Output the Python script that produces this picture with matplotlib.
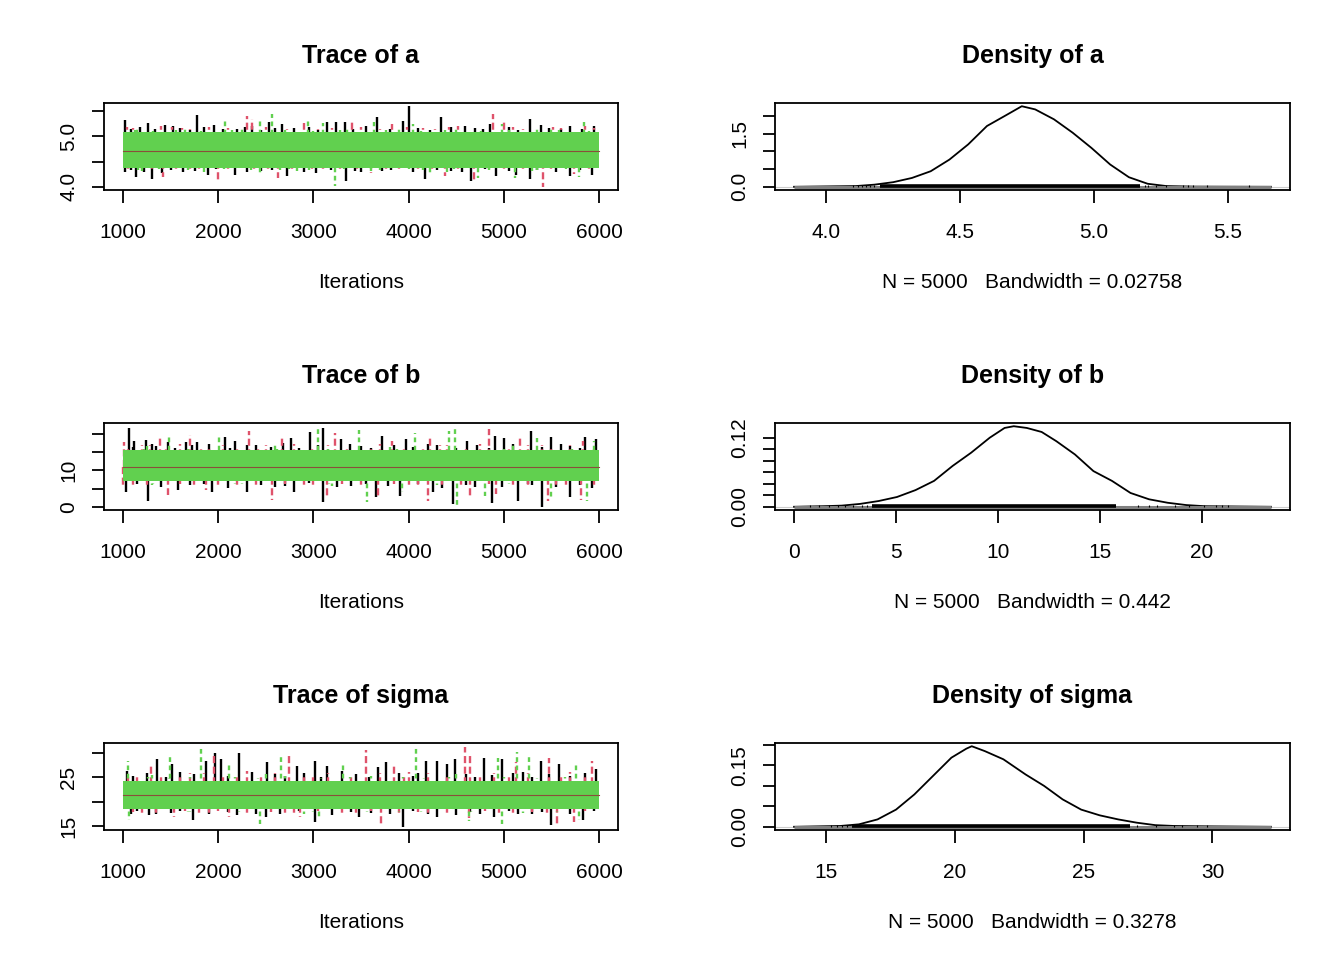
import matplotlib
matplotlib.use("Agg")
import matplotlib.pyplot as plt

plt.rcParams["font.family"] = ["Liberation Sans", "DejaVu Sans"]

# R palette for the three chains
CHAIN_COLORS = ["#000000", "#DF536B", "#61D04F"]
CHAIN_STYLES = ["-", (0, (3, 1.5)), (0, (2, 1.5))]
ITER_TICKS = [1000, 2000, 3000, 4000, 5000, 6000]

# ---- trace of a: solid band (core) and excursions (iteration, value) ----
a_mean = 4.72
a_core = (4.38, 5.09)
a_black_up = [(1020, 5.33), (1260, 5.27), (1440, 5.23), (1600, 5.16), (1780, 5.43), (1960, 5.23),
              (2200, 5.15), (2360, 5.21), (2530, 5.28), (2670, 5.25), (2800, 5.17), (3140, 5.28),
              (3240, 5.28), (3330, 5.28), (3670, 5.38), (3940, 5.30), (4000, 5.60), (4340, 5.38),
              (4590, 5.21), (4700, 5.16), (4860, 5.25), (5280, 5.35), (5390, 5.23), (5600, 5.14),
              (5950, 5.21), (1080, 5.14), (1180, 5.19), (1340, 5.15), (1520, 5.20), (1700, 5.13),
              (1850, 5.18), (2050, 5.14), (2280, 5.19), (2450, 5.13), (2600, 5.16), (2950, 5.18),
              (3050, 5.13), (3420, 5.15), (3550, 5.20), (3800, 5.14), (4100, 5.17), (4230, 5.13),
              (4450, 5.18), (4780, 5.14), (5050, 5.19), (5150, 5.13), (5480, 5.17), (5700, 5.20),
              (5820, 5.15)]
a_red_up = [(1100, 5.16), (1510, 5.18), (1700, 5.14), (2100, 5.17), (2300, 5.40), (2360, 5.35),
            (2900, 5.26), (3050, 5.15), (3410, 5.28), (3830, 5.25), (4150, 5.16), (4420, 5.19),
            (4890, 5.45), (5000, 5.28), (5200, 5.15), (5600, 5.17), (5850, 5.21), (1040, 5.18),
            (1250, 5.13), (1400, 5.20), (1620, 5.16), (1900, 5.19), (2180, 5.13), (2500, 5.18),
            (2720, 5.14), (3200, 5.17), (3300, 5.13), (3500, 5.19), (3700, 5.14), (3980, 5.18),
            (4280, 5.14), (4520, 5.20), (4650, 5.13), (5100, 5.18), (5330, 5.13), (5520, 5.19),
            (5950, 5.16)]
a_green_up = [(2070, 5.33), (2440, 5.30), (2560, 5.44), (2940, 5.35), (3100, 5.26), (3640, 5.28),
              (4050, 5.25), (4980, 5.25), (5350, 5.19), (5840, 5.28), (1150, 5.17), (1650, 5.15),
              (2250, 5.18), (3350, 5.16), (3900, 5.14), (4500, 5.17), (5500, 5.15),
              (1030, 5.08), (1130, 5.12), (1230, 5.06), (1320, 5.10), (1480, 5.07), (1560, 5.13),
              (1740, 5.08), (1820, 5.11), (1990, 5.06), (2140, 5.12), (2330, 5.09), (2490, 5.07),
              (2700, 5.13), (2860, 5.08), (3000, 5.10), (3160, 5.06), (3280, 5.12), (3460, 5.09),
              (3580, 5.07), (3760, 5.13), (3980, 5.08), (4130, 5.11), (4270, 5.06), (4380, 5.12),
              (4620, 5.08), (4760, 5.10), (4900, 5.07), (5060, 5.13), (5200, 5.09), (5420, 5.06),
              (5580, 5.12), (5680, 5.08), (5900, 5.10)]
a_black_dn = [(1020, 4.29), (1140, 4.19), (1300, 4.16), (1410, 4.28), (1630, 4.30), (1890, 4.24),
              (2180, 4.24), (2450, 4.31), (2720, 4.21), (3030, 4.28), (3340, 4.12), (3500, 4.30),
              (3720, 4.31), (4170, 4.16), (4450, 4.32), (4660, 4.11), (4920, 4.21), (5130, 4.23),
              (5280, 4.16), (5700, 4.21), (5930, 4.24), (1080, 4.33), (1220, 4.30), (1500, 4.34),
              (1760, 4.31), (1980, 4.35), (2300, 4.29), (2560, 4.33), (2900, 4.30), (3180, 4.34),
              (3440, 4.31), (3820, 4.33), (4050, 4.29), (4300, 4.34), (4560, 4.30), (4800, 4.35),
              (5050, 4.31), (5350, 4.34), (5550, 4.30), (5800, 4.33)]
a_red_dn = [(1200, 4.32), (1420, 4.19), (1800, 4.30), (2000, 4.11), (2630, 4.17), (3100, 4.33),
            (3600, 4.28), (3900, 4.31), (4380, 4.21), (4690, 4.14), (5000, 4.32), (5410, 4.00),
            (5740, 4.26), (1050, 4.34), (1300, 4.30), (1560, 4.33), (1700, 4.29), (2100, 4.34),
            (2380, 4.31), (2520, 4.30), (2780, 4.34), (2980, 4.31), (3280, 4.35), (3460, 4.29),
            (3760, 4.33), (4100, 4.30), (4250, 4.35), (4520, 4.31), (4850, 4.33), (5200, 4.30),
            (5500, 4.34), (5900, 4.31)]
a_green_dn = [(2440, 4.26), (2830, 4.31), (3230, 4.02), (4220, 4.24), (4730, 4.17), (5120, 4.17),
              (5790, 4.19), (1200, 4.32), (1850, 4.30), (2650, 4.33), (3600, 4.31), (4400, 4.30),
              (5300, 4.32), (1040, 4.38), (1160, 4.34), (1260, 4.40), (1380, 4.36), (1540, 4.39),
              (1680, 4.33), (1780, 4.37), (1940, 4.40), (2060, 4.35), (2220, 4.38), (2340, 4.33),
              (2600, 4.39), (2740, 4.36), (2950, 4.34), (3080, 4.40), (3320, 4.35), (3480, 4.38),
              (3700, 4.34), (3850, 4.39), (4000, 4.36), (4150, 4.33), (4320, 4.38), (4480, 4.35),
              (4600, 4.40), (4850, 4.34), (5000, 4.37), (5180, 4.39), (5350, 4.33), (5480, 4.38),
              (5650, 4.35), (5880, 4.39)]

# ---- trace of b ----
b_mean = 11.0
b_core = (7.2, 15.6)
b_black_up = [(1060, 21.5), (1120, 18.1), (1240, 18.3), (1350, 16.6), (1470, 17.6), (1660, 17.6),
              (1780, 17.6), (2070, 19.0), (2180, 18.1), (2400, 16.9), (2760, 18.7), (2960, 20.4),
              (3100, 21.5), (3290, 18.5), (3500, 16.7), (3720, 19.4), (3970, 18.5), (4300, 17.0),
              (4610, 18.1), (4910, 19.4), (5000, 18.7), (5290, 20.8), (5500, 19.0), (5700, 16.5),
              (5850, 19.0), (5970, 18.5), (1100, 16.4), (1300, 17.2), (1550, 16.0), (1720, 16.8),
              (1900, 17.3), (2120, 16.2), (2300, 17.0), (2550, 16.3), (2680, 17.4), (2850, 16.1),
              (3050, 16.9), (3380, 17.2), (3600, 16.2), (3850, 16.9), (4050, 16.4), (4200, 17.3),
              (4500, 16.1), (4720, 16.8), (4850, 16.2), (5100, 17.1), (5400, 16.3), (5600, 17.2),
              (5800, 16.0)]
b_red_up = [(1010, 17.6), (1200, 16.8), (1390, 18.7), (1700, 19.6), (1900, 16.5), (2320, 20.8),
            (2500, 17.0), (2670, 19.0), (3230, 20.2), (3600, 16.6), (3830, 18.1), (4220, 19.0),
            (4400, 16.8), (4840, 21.3), (5170, 19.0), (5400, 17.0), (5830, 18.1), (1050, 16.2),
            (1280, 16.9), (1450, 16.0), (1600, 17.3), (1820, 16.4), (2050, 17.0), (2200, 16.1),
            (2420, 16.7), (2800, 17.1), (2980, 16.3), (3150, 16.8), (3350, 16.0), (3700, 17.2),
            (3950, 16.5), (4150, 16.1), (4330, 16.9), (4600, 16.3), (4750, 17.1), (5050, 16.2),
            (5250, 16.8), (5500, 16.1), (5700, 16.9), (5950, 16.4)]
b_green_up = [(1480, 19.4), (2010, 19.6), (3050, 21.8), (3480, 21.1), (4070, 20.2), (4420, 20.6),
              (4490, 22.0), (5350, 18.7), (5950, 18.1), (1250, 16.6), (2600, 16.9), (3800, 16.4),
              (5100, 16.8), (1030, 15.2), (1140, 14.6), (1220, 15.8), (1330, 14.9), (1440, 15.5),
              (1560, 14.7), (1680, 15.9), (1790, 15.0), (1920, 14.5), (2080, 15.6), (2190, 14.8),
              (2330, 15.3), (2470, 14.6), (2620, 15.8), (2750, 14.9), (2880, 15.4), (3000, 14.7),
              (3150, 15.9), (3300, 15.0), (3420, 14.6), (3580, 15.5), (3720, 14.8), (3880, 15.7),
              (4010, 15.0), (4170, 14.5), (4310, 15.6), (4560, 14.9), (4700, 15.4), (4860, 14.7),
              (5000, 15.8), (5160, 15.1), (5300, 14.6), (5440, 15.5), (5580, 14.8), (5720, 15.9),
              (5880, 15.0)]
b_black_dn = [(1030, 4.2), (1260, 1.75), (1580, 4.7), (1700, 5.9), (1930, 4.0), (2300, 4.0),
              (2600, 5.6), (2800, 4.2), (3100, 1.5), (3400, 5.8), (3660, 2.7), (3910, 3.0),
              (4260, 4.0), (4470, 0.8), (4700, 5.5), (4880, 1.2), (5150, 1.75), (5300, 6.0),
              (5400, 0.1), (5700, 2.7), (5930, 5.2), (1150, 6.2), (1400, 5.5), (1850, 6.4),
              (2100, 5.3), (2450, 6.1), (2700, 5.8), (2950, 6.5), (3250, 5.4), (3550, 6.2),
              (3780, 5.7), (4100, 6.3), (4350, 5.2), (4600, 6.0), (4980, 5.6), (5250, 6.4),
              (5550, 5.5), (5800, 6.1)]
b_red_dn = [(1100, 5.8), (1470, 3.3), (1870, 4.7), (2000, 5.5), (2570, 1.9), (2900, 6.0),
            (3140, 2.7), (3680, 2.4), (4000, 5.6), (4200, 1.75), (4650, 2.7), (4920, 3.6),
            (5100, 5.9), (5460, 1.75), (5650, 5.4), (5810, 1.9), (1000, 6.0), (1250, 5.6),
            (1600, 6.3), (1750, 5.2), (2200, 6.1), (2400, 5.7), (2700, 6.4), (3000, 5.3),
            (3300, 6.2), (3500, 5.8), (3850, 6.3), (4100, 5.5), (4350, 6.1), (4550, 5.4),
            (4850, 6.2), (5250, 5.3), (5550, 6.0), (5950, 5.8)]
b_green_dn = [(3560, 1.5), (3930, 4.2), (4510, 0.55), (4800, 2.9), (5500, 2.4), (5870, 1.75),
              (1300, 5.9), (2250, 6.2), (3200, 5.7), (4300, 6.0), (1050, 7.0), (1180, 7.5),
              (1310, 6.4), (1420, 7.2), (1540, 6.8), (1660, 7.6), (1800, 6.5), (1940, 7.1),
              (2060, 7.4), (2180, 6.3), (2310, 7.0), (2480, 7.5), (2620, 6.6), (2760, 7.2),
              (2880, 6.9), (3020, 7.6), (3160, 6.4), (3330, 7.1), (3450, 7.4), (3620, 6.7),
              (3760, 7.3), (3900, 6.5), (4050, 7.0), (4180, 7.5), (4400, 6.6), (4620, 7.2),
              (4760, 6.9), (4920, 7.5), (5060, 6.4), (5220, 7.1), (5380, 7.4), (5520, 6.7),
              (5680, 7.2), (5840, 6.5), (5980, 7.0)]

# ---- trace of sigma ----
s_mean = 21.3
s_core = (18.6, 24.3)
s_black_up = [(1040, 26.2), (1360, 28.8), (1510, 27.6), (1600, 26.0), (1870, 28.3), (1970, 29.9),
              (2030, 28.8), (2220, 29.9), (2510, 28.0), (2600, 25.7), (2830, 27.3), (3020, 28.3),
              (3140, 27.3), (3300, 26.3), (3680, 27.1), (3760, 28.0), (4100, 25.8), (4180, 28.3),
              (4300, 28.3), (4400, 27.6), (4490, 28.7), (4790, 29.0), (4980, 28.8), (5200, 26.1),
              (5390, 28.3), (5580, 27.6), (5970, 26.6), (1100, 25.3), (1250, 25.9), (1450, 25.1),
              (1750, 25.7), (2100, 25.2), (2350, 26.0), (2700, 25.3), (2900, 25.8), (3080, 25.0),
              (3450, 25.6), (3580, 25.1), (3900, 25.9), (4050, 25.2), (4600, 25.7), (4700, 25.0),
              (4880, 25.5), (5100, 25.9), (5300, 25.1), (5480, 25.7), (5700, 25.2), (5850, 25.8)]
s_red_up = [(1150, 25.6), (1290, 27.3), (1700, 25.9), (1960, 29.5), (2300, 26.2), (2740, 29.5),
            (3000, 25.7), (3550, 30.6), (3850, 27.3), (4000, 26.0), (4590, 31.1), (4650, 29.4),
            (4900, 25.8), (5130, 28.0), (5480, 29.0), (5700, 26.1), (5930, 28.3), (1050, 25.0),
            (1400, 25.6), (1600, 25.2), (1850, 25.9), (2050, 25.1), (2200, 25.7), (2450, 25.0),
            (2600, 25.8), (2900, 25.3), (3150, 25.9), (3400, 25.1), (3700, 25.8), (3950, 25.3),
            (4200, 25.9), (4400, 25.1), (4750, 25.6), (5050, 25.2), (5250, 25.9), (5600, 25.1),
            (5850, 25.7)]
s_green_up = [(1050, 28.3), (1490, 29.5), (1820, 31.1), (2110, 28.0), (2660, 29.5), (3310, 28.0),
              (4080, 31.3), (4940, 29.0), (5140, 30.2), (5270, 29.4), (5760, 28.0), (1300, 25.4),
              (2500, 25.6), (3600, 25.3), (4500, 25.7), (1030, 24.6), (1140, 24.1), (1260, 25.0),
              (1370, 24.3), (1480, 24.8), (1580, 24.0), (1700, 25.1), (1800, 24.4), (1930, 24.7),
              (2060, 24.1), (2180, 25.0), (2290, 24.3), (2420, 24.8), (2560, 24.0), (2700, 25.2),
              (2820, 24.5), (2950, 24.2), (3080, 24.9), (3200, 24.3), (3380, 25.0), (3500, 24.1),
              (3660, 24.7), (3800, 24.2), (3940, 25.1), (4020, 24.4), (4160, 24.8), (4280, 24.1),
              (4420, 25.0), (4560, 24.3), (4700, 24.7), (4850, 24.0), (5000, 25.1), (5200, 24.4),
              (5350, 24.8), (5500, 24.2), (5640, 25.0), (5800, 24.3), (5960, 24.7)]
s_black_dn = [(1080, 17.6), (1270, 17.2), (1500, 17.8), (1740, 16.2), (2200, 17.2), (2400, 17.5),
              (2500, 16.8), (3020, 15.9), (3480, 16.8), (3600, 17.7), (3940, 14.9), (4300, 16.8),
              (4500, 17.3), (4900, 16.8), (5300, 17.6), (5500, 15.2), (5830, 16.2), (1150, 18.1),
              (1350, 17.6), (1600, 18.2), (1900, 17.4), (2100, 18.0), (2650, 17.5), (2850, 18.1),
              (3200, 17.3), (3400, 18.0), (3800, 17.4), (4050, 18.2), (4200, 17.6), (4650, 18.0),
              (4750, 17.5), (5050, 18.2), (5150, 17.4), (5400, 18.0), (5700, 17.5), (5950, 18.1)]
s_red_dn = [(1200, 17.5), (1540, 16.9), (1900, 17.8), (2110, 16.8), (2700, 17.3), (2860, 16.8),
            (3300, 17.6), (3710, 15.0), (4200, 17.4), (4630, 16.6), (5100, 17.7), (5560, 15.2),
            (5740, 15.9), (1100, 18.0), (1350, 17.4), (1650, 18.1), (1800, 17.3), (2000, 18.2),
            (2300, 17.6), (2550, 18.0), (2800, 17.3), (3050, 18.1), (3450, 17.4), (3600, 18.2),
            (3900, 17.6), (4100, 18.0), (4400, 17.5), (4800, 18.1), (4950, 17.4), (5300, 18.0),
            (5450, 17.6), (5850, 18.2)]
s_green_dn = [(1060, 16.2), (2440, 15.4), (3060, 16.8), (4630, 16.1), (4980, 15.5), (5790, 16.2),
              (1700, 17.9), (2900, 17.6), (3900, 18.0), (5200, 17.8), (1040, 18.5), (1170, 18.1),
              (1290, 18.7), (1420, 18.2), (1560, 18.6), (1680, 18.0), (1820, 18.8), (1950, 18.3),
              (2080, 18.5), (2220, 17.9), (2350, 18.6), (2480, 18.2), (2620, 18.7), (2760, 18.1),
              (2900, 18.5), (3000, 18.0), (3140, 18.7), (3280, 18.3), (3420, 18.6), (3560, 17.9),
              (3700, 18.5), (3850, 18.2), (4000, 18.7), (4130, 18.0), (4250, 18.6), (4380, 18.3),
              (4520, 18.5), (4660, 18.0), (4800, 18.7), (4940, 18.2), (5080, 18.6), (5250, 18.1),
              (5420, 18.5), (5560, 18.0), (5700, 18.7), (5880, 18.3)]

# ---- densities (x, y) ----
a_dens_x = [4.11, 4.18, 4.25, 4.32, 4.39, 4.46, 4.53, 4.60, 4.67, 4.73, 4.78, 4.85, 4.92, 4.99,
            5.06, 5.13, 5.20, 5.27, 5.37]
a_dens_y = [0.02, 0.06, 0.13, 0.25, 0.44, 0.77, 1.20, 1.72, 2.02, 2.28, 2.19, 1.91, 1.53, 1.10,
            0.63, 0.27, 0.085, 0.02, 0.005]
a_dens_range = (3.88, 5.66)
a_rug_dense = (4.20, 5.17)
a_rug_ticks = [4.10, 4.12, 4.135, 4.15, 4.165, 4.18, 5.19, 5.20, 5.23, 5.27, 5.33, 5.35, 5.37,
               5.42, 5.58]

b_dens_x = [1.42, 2.33, 3.24, 4.15, 5.05, 5.96, 6.87, 7.78, 8.69, 9.60, 10.33, 10.78, 11.42,
            12.15, 12.87, 13.78, 14.69, 15.60, 16.51, 17.42, 18.33, 19.24, 20.15]
b_dens_y = [0.001, 0.002, 0.005, 0.010, 0.017, 0.029, 0.045, 0.071, 0.094, 0.120, 0.137, 0.140,
            0.137, 0.130, 0.114, 0.091, 0.062, 0.045, 0.024, 0.013, 0.007, 0.003, 0.001]
b_dens_range = (0.0, 23.4)
b_rug_dense = (3.8, 15.8)
b_rug_ticks = [0.78, 1.24, 1.69, 2.15, 2.51, 2.87, 3.33, 3.6, 16.9, 17.4, 17.8, 18.7, 19.4,
               20.1, 20.7, 21.0, 21.3]

s_dens_x = [15.55, 16.27, 16.99, 17.71, 18.42, 19.14, 19.86, 20.44, 20.65, 21.16, 21.88, 22.74,
            23.46, 24.18, 24.90, 25.62, 26.34, 27.06, 27.78, 28.50, 29.94]
s_dens_y = [0.002, 0.006, 0.018, 0.042, 0.079, 0.124, 0.169, 0.191, 0.197, 0.185, 0.165, 0.128,
            0.100, 0.067, 0.042, 0.028, 0.018, 0.010, 0.004, 0.002, 0.001]
s_dens_range = (13.75, 32.27)
s_rug_dense = (16.0, 26.8)
s_rug_ticks = [15.2, 15.4, 15.6, 15.8, 27.06, 27.8, 28.5, 28.8, 29.4, 29.8]

W, H = 1344, 960
LEFT_X = (104, 618)
RIGHT_X = (775, 1290)
ROW_TOP = [103, 423, 743]
ROW_H = 87
TICK_FS = 15
TITLE_FS = 18


def r_lim(lo, hi):
    pad = 0.04 * (hi - lo)
    return lo - pad, hi + pad


def style_axes(ax):
    for sp in ax.spines.values():
        sp.set_linewidth(1.3)
        sp.set_zorder(20)
    ax.tick_params(direction="out", length=9, width=1.3, labelsize=TICK_FS)
    ax.tick_params(axis="x", pad=14.5)
    ax.tick_params(axis="y", pad=9.5)
    for lab in ax.get_yticklabels():
        lab.set_rotation(90)
        lab.set_va("center")


def add_axes(xs, row):
    top = ROW_TOP[row]
    return fig.add_axes([xs[0] / W, 1 - (top + ROW_H) / H, (xs[1] - xs[0]) / W, ROW_H / H])


def draw_trace(ax, mean, core, chains, yticks, ylabels):
    vals = [v for up, dn in chains for _, v in up + dn]
    z = 1
    for (up, dn), col, ls in zip(chains, CHAIN_COLORS, CHAIN_STYLES):
        # excursions first, then the chain's band on top of the earlier chains
        for it, v in up + dn:
            ax.plot([it, it], [mean, v], color=col, lw=1.7, ls=ls,
                    solid_capstyle="butt", dash_capstyle="butt", zorder=z)
        ax.fill_between([1000, 6000], core[0], core[1], color=col, lw=0, zorder=z + 1)
        z += 2
    ax.plot([1000, 6000], [mean, mean], color="#8a4f3a", lw=0.8, zorder=z)
    ax.set_xlim(r_lim(1000, 6000))
    ax.set_ylim(r_lim(min(vals), max(vals)))
    ax.set_xticks(ITER_TICKS)
    ax.set_yticks(yticks)
    ax.set_yticklabels(ylabels)
    style_axes(ax)


def draw_density(ax, xs, ys, rng, rug_dense, rug_ticks, xticks, yticks, ylabels):
    peak = max(ys)
    ax.axhline(0, color="#cccccc", lw=0.8)
    ax.plot([rng[0]] + xs + [rng[1]], [0] + ys + [0], color="black", lw=1.3)
    ax.plot(rng, [0, 0], color="#808080", lw=2.2, solid_capstyle="butt")
    ax.plot(rug_dense, [peak / 200, peak / 200], color="black", lw=2.6, solid_capstyle="butt")
    ax.vlines(rug_ticks, -peak / 120, peak / 60, color="black", lw=0.8)
    ax.set_xlim(r_lim(*rng))
    ax.set_ylim(r_lim(0, peak))
    ax.set_xticks(xticks)
    ax.set_yticks(yticks)
    ax.set_yticklabels(ylabels)
    style_axes(ax)


fig = plt.figure(figsize=(W / 100, H / 100), dpi=100)

traces = [
    ("a", a_mean, a_core, [(a_black_up, a_black_dn), (a_red_up, a_red_dn), (a_green_up, a_green_dn)],
     [4.0, 4.5, 5.0, 5.5], ["4.0", "", "5.0", ""]),
    ("b", b_mean, b_core, [(b_black_up, b_black_dn), (b_red_up, b_red_dn), (b_green_up, b_green_dn)],
     [0, 5, 10, 15, 20], ["0", "", "10", "", ""]),
    ("sigma", s_mean, s_core, [(s_black_up, s_black_dn), (s_red_up, s_red_dn), (s_green_up, s_green_dn)],
     [15, 20, 25, 30], ["15", "", "25", ""]),
]
densities = [
    (a_dens_x, a_dens_y, a_dens_range, a_rug_dense, a_rug_ticks, [4.0, 4.5, 5.0, 5.5],
     ["4.0", "4.5", "5.0", "5.5"], [0, 0.5, 1.0, 1.5, 2.0], ["0.0", "", "", "1.5", ""],
     "N = 5000   Bandwidth = 0.02758"),
    (b_dens_x, b_dens_y, b_dens_range, b_rug_dense, b_rug_ticks, [0, 5, 10, 15, 20],
     ["0", "5", "10", "15", "20"], [0, 0.02, 0.04, 0.06, 0.08, 0.10, 0.12],
     ["0.00", "", "", "", "", "", "0.12"], "N = 5000   Bandwidth = 0.442"),
    (s_dens_x, s_dens_y, s_dens_range, s_rug_dense, s_rug_ticks, [15, 20, 25, 30],
     ["15", "20", "25", "30"], [0, 0.05, 0.10, 0.15, 0.20], ["0.00", "", "", "0.15", ""],
     "N = 5000   Bandwidth = 0.3278"),
]

for row, (name, mean, core, chains, yt, yl) in enumerate(traces):
    ax = add_axes(LEFT_X, row)
    draw_trace(ax, mean, core, chains, yt, yl)
    cx = (LEFT_X[0] + LEFT_X[1]) / 2 / W
    fig.text(cx, 1 - (ROW_TOP[row] - 47) / H, "Trace of " + name, ha="center", va="center",
             fontsize=TITLE_FS, fontweight="bold")
    fig.text(cx, 1 - (ROW_TOP[row] + 179) / H, "Iterations", ha="center", va="center",
             fontsize=TICK_FS)

for row, (xs, ys, rng, rd, rt, xt, xl, yt, yl, lab) in enumerate(densities):
    ax = add_axes(RIGHT_X, row)
    draw_density(ax, xs, ys, rng, rd, rt, xt, yt, yl)
    ax.set_xticklabels(xl)
    name = traces[row][0]
    cx = (RIGHT_X[0] + RIGHT_X[1]) / 2 / W
    fig.text(cx, 1 - (ROW_TOP[row] - 47) / H, "Density of " + name, ha="center", va="center",
             fontsize=TITLE_FS, fontweight="bold")
    fig.text(cx, 1 - (ROW_TOP[row] + 179) / H, lab, ha="center", va="center", fontsize=TICK_FS)

fig.savefig("out.png", dpi=100)
